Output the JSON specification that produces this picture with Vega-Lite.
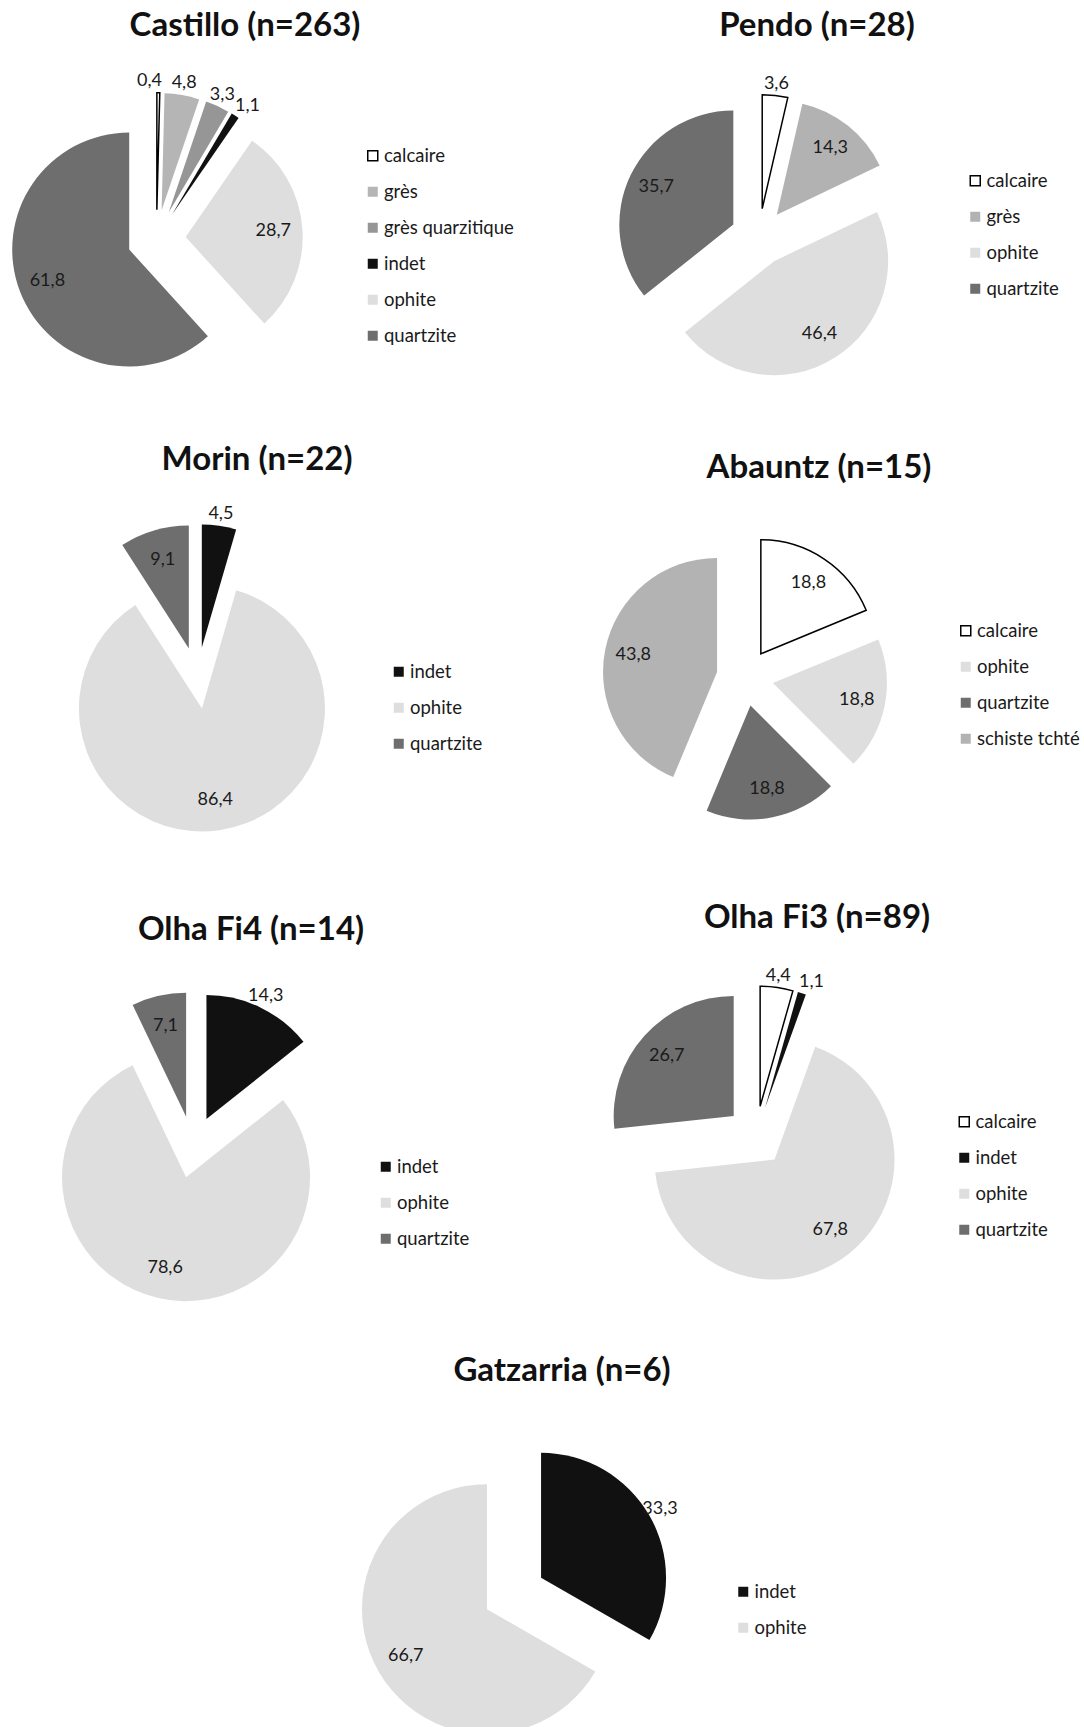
{
  "$schema": "https://vega.github.io/schema/vega-lite/v6.json",
  "background": "white",
  "padding": {"top": 2, "left": 0, "right": 0, "bottom": 0},
  "spacing": 0,
  "config": {
    "font": "Lato",
    "view": {"stroke": null, "fill": "white"},
    "locale": {"number": {"decimal": ",", "thousands": " ", "grouping": [3], "currency": ["", " €"]}},
    "title": {"fontSize": 33, "fontWeight": "bold", "color": "#111", "font": "Lato", "anchor": "middle", "frame": "group"},
    "legend": {"symbolType": "square", "symbolSize": 100, "labelFontSize": 18.5, "labelColor": "#1a1a1a", "rowPadding": 17, "labelOffset": 2, "padding": 0, "symbolStrokeWidth": 1.5, "labelFont": "Lato"},
    "text": {"fontSize": 18, "color": "#1a1a1a", "font": "Lato"},
    "arc": {"strokeWidth": 1.5}
  },
  "data": {"values": [
    {"site": "Castillo", "material": "calcaire", "value": 0.4},
    {"site": "Castillo", "material": "grès", "value": 4.8},
    {"site": "Castillo", "material": "grès quarzitique", "value": 3.3},
    {"site": "Castillo", "material": "indet", "value": 1.1},
    {"site": "Castillo", "material": "ophite", "value": 28.7},
    {"site": "Castillo", "material": "quartzite", "value": 61.8},
    {"site": "Pendo", "material": "calcaire", "value": 3.6},
    {"site": "Pendo", "material": "grès", "value": 14.3},
    {"site": "Pendo", "material": "ophite", "value": 46.4},
    {"site": "Pendo", "material": "quartzite", "value": 35.7},
    {"site": "Morin", "material": "indet", "value": 4.5},
    {"site": "Morin", "material": "ophite", "value": 86.4},
    {"site": "Morin", "material": "quartzite", "value": 9.1},
    {"site": "Abauntz", "material": "calcaire", "value": 18.8},
    {"site": "Abauntz", "material": "ophite", "value": 18.8},
    {"site": "Abauntz", "material": "quartzite", "value": 18.8},
    {"site": "Abauntz", "material": "schiste tchté", "value": 43.8},
    {"site": "Olha Fi4", "material": "indet", "value": 14.3},
    {"site": "Olha Fi4", "material": "ophite", "value": 78.6},
    {"site": "Olha Fi4", "material": "quartzite", "value": 7.1},
    {"site": "Olha Fi3", "material": "calcaire", "value": 4.4},
    {"site": "Olha Fi3", "material": "indet", "value": 1.1},
    {"site": "Olha Fi3", "material": "ophite", "value": 67.8},
    {"site": "Olha Fi3", "material": "quartzite", "value": 26.7},
    {"site": "Gatzarria", "material": "indet", "value": 33.3},
    {"site": "Gatzarria", "material": "ophite", "value": 66.7}
  ]},
  "transform": [
    {"window": [{"op": "sum", "field": "value", "as": "cum"}], "groupby": ["site"], "sort": [{"field": "material", "order": "ascending"}], "frame": [null, 0]},
    {"joinaggregate": [{"op": "sum", "field": "value", "as": "total"}], "groupby": ["site"]},
    {"calculate": "(datum.cum - datum.value) / datum.total", "as": "f0"},
    {"calculate": "datum.cum / datum.total", "as": "f1"},
    {"calculate": "PI * (datum.f0 + datum.f1)", "as": "am"},
    {"calculate": "0.25 * sin(datum.am)", "as": "ex"},
    {"calculate": "0.25 * cos(datum.am)", "as": "ey"},
    {"calculate": "(datum.value < 6 || datum.material === 'indet') ? 1.35 : 1.0", "as": "lr"},
    {"calculate": "datum.lr * sin(datum.am)", "as": "lx"},
    {"calculate": "datum.lr * cos(datum.am)", "as": "ly"}
  ],
  "resolve": {"scale": {"x": "independent", "y": "independent", "theta": "independent", "fill": "independent", "stroke": "independent"}, "legend": {"fill": "independent", "stroke": "independent"}},
  "vconcat": [
    {
      "spacing": 0,
      "resolve": {"scale": {"x": "independent", "y": "independent", "theta": "independent", "fill": "independent", "stroke": "independent"}, "legend": {"fill": "independent", "stroke": "independent"}},
      "hconcat": [
        {
          "width": 542, "height": 420,
          "title": {"text": "Castillo (n=263)", "dx": -26, "offset": -40.5},
          "transform": [{"filter": "datum.site === 'Castillo'"}],
          "layer": [
            {"mark": {"type": "arc", "radius": 117},
             "encoding": {
               "x": {"field": "ex", "type": "quantitative", "scale": {"domain": [-1.3376, 3.2949], "nice": false, "zero": false}, "axis": null},
               "y": {"field": "ey", "type": "quantitative", "scale": {"domain": [-1.5641, 2.0256], "nice": false, "zero": false}, "axis": null},
               "theta": {"field": "f0", "type": "quantitative", "scale": {"domain": [0, 1]}},
               "theta2": {"field": "f1"},
               "fill": {"field": "material", "type": "nominal", "scale": {"domain": ["calcaire", "grès", "grès quarzitique", "indet", "ophite", "quartzite"], "range": ["#ffffff", "#b5b5b5", "#969696", "#111111", "#dedede", "#6e6e6e"]}, "legend": {"title": null, "orient": "none", "legendX": 363.5, "legendY": 144.5}},
               "stroke": {"field": "material", "type": "nominal", "scale": {"domain": ["calcaire", "grès", "grès quarzitique", "indet", "ophite", "quartzite"], "range": ["#000000", "transparent", "transparent", "transparent", "transparent", "transparent"]}, "legend": {"title": null, "orient": "none", "legendX": 363.5, "legendY": 144.5}}
             }},
            {"mark": {"type": "text", "dx": {"expr": "datum.value < 1 ? -9 : (datum.value < 2 ? 6 : 0)"}},
             "encoding": {
               "x": {"field": "lx", "type": "quantitative", "scale": {"domain": [-1.3376, 3.2949], "nice": false, "zero": false}, "axis": null},
               "y": {"field": "ly", "type": "quantitative", "scale": {"domain": [-1.5641, 2.0256], "nice": false, "zero": false}, "axis": null},
               "text": {"field": "value", "type": "quantitative", "format": ".1f"}
             }}
          ]
        },
        {
          "width": 542, "height": 420,
          "title": {"text": "Pendo (n=28)", "dx": 4, "offset": -40.5},
          "transform": [{"filter": "datum.site === 'Pendo'"}],
          "layer": [
            {"mark": {"type": "arc", "radius": 114},
             "encoding": {
               "x": {"field": "ex", "type": "quantitative", "scale": {"domain": [-1.9035, 2.8509], "nice": false, "zero": false}, "axis": null},
               "y": {"field": "ey", "type": "quantitative", "scale": {"domain": [-1.6228, 2.0614], "nice": false, "zero": false}, "axis": null},
               "theta": {"field": "f0", "type": "quantitative", "scale": {"domain": [0, 1]}},
               "theta2": {"field": "f1"},
               "fill": {"field": "material", "type": "nominal", "scale": {"domain": ["calcaire", "grès", "ophite", "quartzite"], "range": ["#ffffff", "#b2b2b2", "#dedede", "#6e6e6e"]}, "legend": {"title": null, "orient": "none", "legendX": 424, "legendY": 169.5}},
               "stroke": {"field": "material", "type": "nominal", "scale": {"domain": ["calcaire", "grès", "ophite", "quartzite"], "range": ["#000000", "transparent", "transparent", "transparent"]}, "legend": {"title": null, "orient": "none", "legendX": 424, "legendY": 169.5}}
             }},
            {"mark": {"type": "text"},
             "encoding": {
               "x": {"field": "lx", "type": "quantitative", "scale": {"domain": [-1.9035, 2.8509], "nice": false, "zero": false}, "axis": null},
               "y": {"field": "ly", "type": "quantitative", "scale": {"domain": [-1.6228, 2.0614], "nice": false, "zero": false}, "axis": null},
               "text": {"field": "value", "type": "quantitative", "format": ".1f"}
             }}
          ]
        }
      ]
    },
    {
      "spacing": 0,
      "resolve": {"scale": {"x": "independent", "y": "independent", "theta": "independent", "fill": "independent", "stroke": "independent"}, "legend": {"fill": "independent", "stroke": "independent"}},
      "hconcat": [
        {
          "width": 542, "height": 460,
          "title": {"text": "Morin (n=22)", "dx": -14, "offset": -54.5},
          "transform": [{"filter": "datum.site === 'Morin'"}],
          "layer": [
            {"mark": {"type": "arc", "radius": 123},
             "encoding": {
               "x": {"field": "ex", "type": "quantitative", "scale": {"domain": [-1.6057, 2.8008], "nice": false, "zero": false}, "axis": null},
               "y": {"field": "ey", "type": "quantitative", "scale": {"domain": [-1.6585, 2.0813], "nice": false, "zero": false}, "axis": null},
               "theta": {"field": "f0", "type": "quantitative", "scale": {"domain": [0, 1]}},
               "theta2": {"field": "f1"},
               "fill": {"field": "material", "type": "nominal", "scale": {"domain": ["indet", "ophite", "quartzite"], "range": ["#111111", "#dedede", "#6e6e6e"]}, "legend": {"title": null, "orient": "none", "legendX": 389.5, "legendY": 240.5}}
             }},
            {"mark": {"type": "text"},
             "encoding": {
               "x": {"field": "lx", "type": "quantitative", "scale": {"domain": [-1.6057, 2.8008], "nice": false, "zero": false}, "axis": null},
               "y": {"field": "ly", "type": "quantitative", "scale": {"domain": [-1.6585, 2.0813], "nice": false, "zero": false}, "axis": null},
               "text": {"field": "value", "type": "quantitative", "format": ".1f"}
             }}
          ]
        },
        {
          "width": 542, "height": 460,
          "title": {"text": "Abauntz (n=15)", "dx": 6, "offset": -62.5},
          "transform": [{"filter": "datum.site === 'Abauntz'"}],
          "layer": [
            {"mark": {"type": "arc", "radius": 114},
             "encoding": {
               "x": {"field": "ex", "type": "quantitative", "scale": {"domain": [-1.7807, 2.9737], "nice": false, "zero": false}, "axis": null},
               "y": {"field": "ey", "type": "quantitative", "scale": {"domain": [-1.7939, 2.2412], "nice": false, "zero": false}, "axis": null},
               "theta": {"field": "f0", "type": "quantitative", "scale": {"domain": [0, 1]}},
               "theta2": {"field": "f1"},
               "fill": {"field": "material", "type": "nominal", "scale": {"domain": ["calcaire", "ophite", "quartzite", "schiste tchté"], "range": ["#ffffff", "#dedede", "#6e6e6e", "#b3b3b3"]}, "legend": {"title": null, "orient": "none", "legendX": 414.5, "legendY": 199.5}},
               "stroke": {"field": "material", "type": "nominal", "scale": {"domain": ["calcaire", "ophite", "quartzite", "schiste tchté"], "range": ["#000000", "transparent", "transparent", "transparent"]}, "legend": {"title": null, "orient": "none", "legendX": 414.5, "legendY": 199.5}}
             }},
            {"mark": {"type": "text"},
             "encoding": {
               "x": {"field": "lx", "type": "quantitative", "scale": {"domain": [-1.7807, 2.9737], "nice": false, "zero": false}, "axis": null},
               "y": {"field": "ly", "type": "quantitative", "scale": {"domain": [-1.7939, 2.2412], "nice": false, "zero": false}, "axis": null},
               "text": {"field": "value", "type": "quantitative", "format": ".1f"}
             }}
          ]
        }
      ]
    },
    {
      "spacing": 0,
      "resolve": {"scale": {"x": "independent", "y": "independent", "theta": "independent", "fill": "independent", "stroke": "independent"}, "legend": {"fill": "independent", "stroke": "independent"}},
      "hconcat": [
        {
          "width": 542, "height": 450,
          "title": {"text": "Olha Fi4 (n=14)", "dx": -20, "offset": -64.5},
          "transform": [{"filter": "datum.site === 'Olha Fi4'"}],
          "layer": [
            {"mark": {"type": "arc", "radius": 124},
             "encoding": {
               "x": {"field": "ex", "type": "quantitative", "scale": {"domain": [-1.5565, 2.8145], "nice": false, "zero": false}, "axis": null},
               "y": {"field": "ey", "type": "quantitative", "scale": {"domain": [-1.4919, 2.1371], "nice": false, "zero": false}, "axis": null},
               "theta": {"field": "f0", "type": "quantitative", "scale": {"domain": [0, 1]}},
               "theta2": {"field": "f1"},
               "fill": {"field": "material", "type": "nominal", "scale": {"domain": ["indet", "ophite", "quartzite"], "range": ["#111111", "#dedede", "#6e6e6e"]}, "legend": {"title": null, "orient": "none", "legendX": 376.5, "legendY": 275.5}}
             }},
            {"mark": {"type": "text"},
             "encoding": {
               "x": {"field": "lx", "type": "quantitative", "scale": {"domain": [-1.5565, 2.8145], "nice": false, "zero": false}, "axis": null},
               "y": {"field": "ly", "type": "quantitative", "scale": {"domain": [-1.4919, 2.1371], "nice": false, "zero": false}, "axis": null},
               "text": {"field": "value", "type": "quantitative", "format": ".1f"}
             }}
          ]
        },
        {
          "width": 542, "height": 450,
          "title": {"text": "Olha Fi3 (n=89)", "dx": 4, "offset": -52.5},
          "transform": [{"filter": "datum.site === 'Olha Fi3'"}],
          "layer": [
            {"mark": {"type": "arc", "radius": 120},
             "encoding": {
               "x": {"field": "ex", "type": "quantitative", "scale": {"domain": [-1.7833, 2.7333], "nice": false, "zero": false}, "axis": null},
               "y": {"field": "ey", "type": "quantitative", "scale": {"domain": [-1.6333, 2.1167], "nice": false, "zero": false}, "axis": null},
               "theta": {"field": "f0", "type": "quantitative", "scale": {"domain": [0, 1]}},
               "theta2": {"field": "f1"},
               "fill": {"field": "material", "type": "nominal", "scale": {"domain": ["calcaire", "indet", "ophite", "quartzite"], "range": ["#ffffff", "#111111", "#dedede", "#6e6e6e"]}, "legend": {"title": null, "orient": "none", "legendX": 413, "legendY": 230.5}},
               "stroke": {"field": "material", "type": "nominal", "scale": {"domain": ["calcaire", "indet", "ophite", "quartzite"], "range": ["#000000", "transparent", "transparent", "transparent"]}, "legend": {"title": null, "orient": "none", "legendX": 413, "legendY": 230.5}}
             }},
            {"mark": {"type": "text", "dx": {"expr": "datum.value < 2 ? 6 : 0"}},
             "encoding": {
               "x": {"field": "lx", "type": "quantitative", "scale": {"domain": [-1.7833, 2.7333], "nice": false, "zero": false}, "axis": null},
               "y": {"field": "ly", "type": "quantitative", "scale": {"domain": [-1.6333, 2.1167], "nice": false, "zero": false}, "axis": null},
               "text": {"field": "value", "type": "quantitative", "format": ".1f"}
             }}
          ]
        }
      ]
    },
    {
      "width": 1084, "height": 397,
      "title": {"text": "Gatzarria (n=6)", "dx": 20, "offset": -55.5},
      "transform": [{"filter": "datum.site === 'Gatzarria'"}],
      "layer": [
        {"mark": {"type": "arc", "radius": 125, "clip": true},
         "encoding": {
           "x": {"field": "ex", "type": "quantitative", "scale": {"domain": [-4.112, 4.56], "nice": false, "zero": false}, "axis": null},
           "y": {"field": "ey", "type": "quantitative", "scale": {"domain": [-1.084, 2.092], "nice": false, "zero": false}, "axis": null},
           "theta": {"field": "f0", "type": "quantitative", "scale": {"domain": [0, 1]}},
           "theta2": {"field": "f1"},
           "fill": {"field": "material", "type": "nominal", "scale": {"domain": ["indet", "ophite"], "range": ["#111111", "#dedede"]}, "legend": {"title": null, "orient": "none", "legendX": 734, "legendY": 250.5}}
         }},
        {"mark": {"type": "text"},
         "encoding": {
           "x": {"field": "lx", "type": "quantitative", "scale": {"domain": [-4.112, 4.56], "nice": false, "zero": false}, "axis": null},
           "y": {"field": "ly", "type": "quantitative", "scale": {"domain": [-1.084, 2.092], "nice": false, "zero": false}, "axis": null},
           "text": {"field": "value", "type": "quantitative", "format": ".1f"}
         }}
      ]
    }
  ]
}
